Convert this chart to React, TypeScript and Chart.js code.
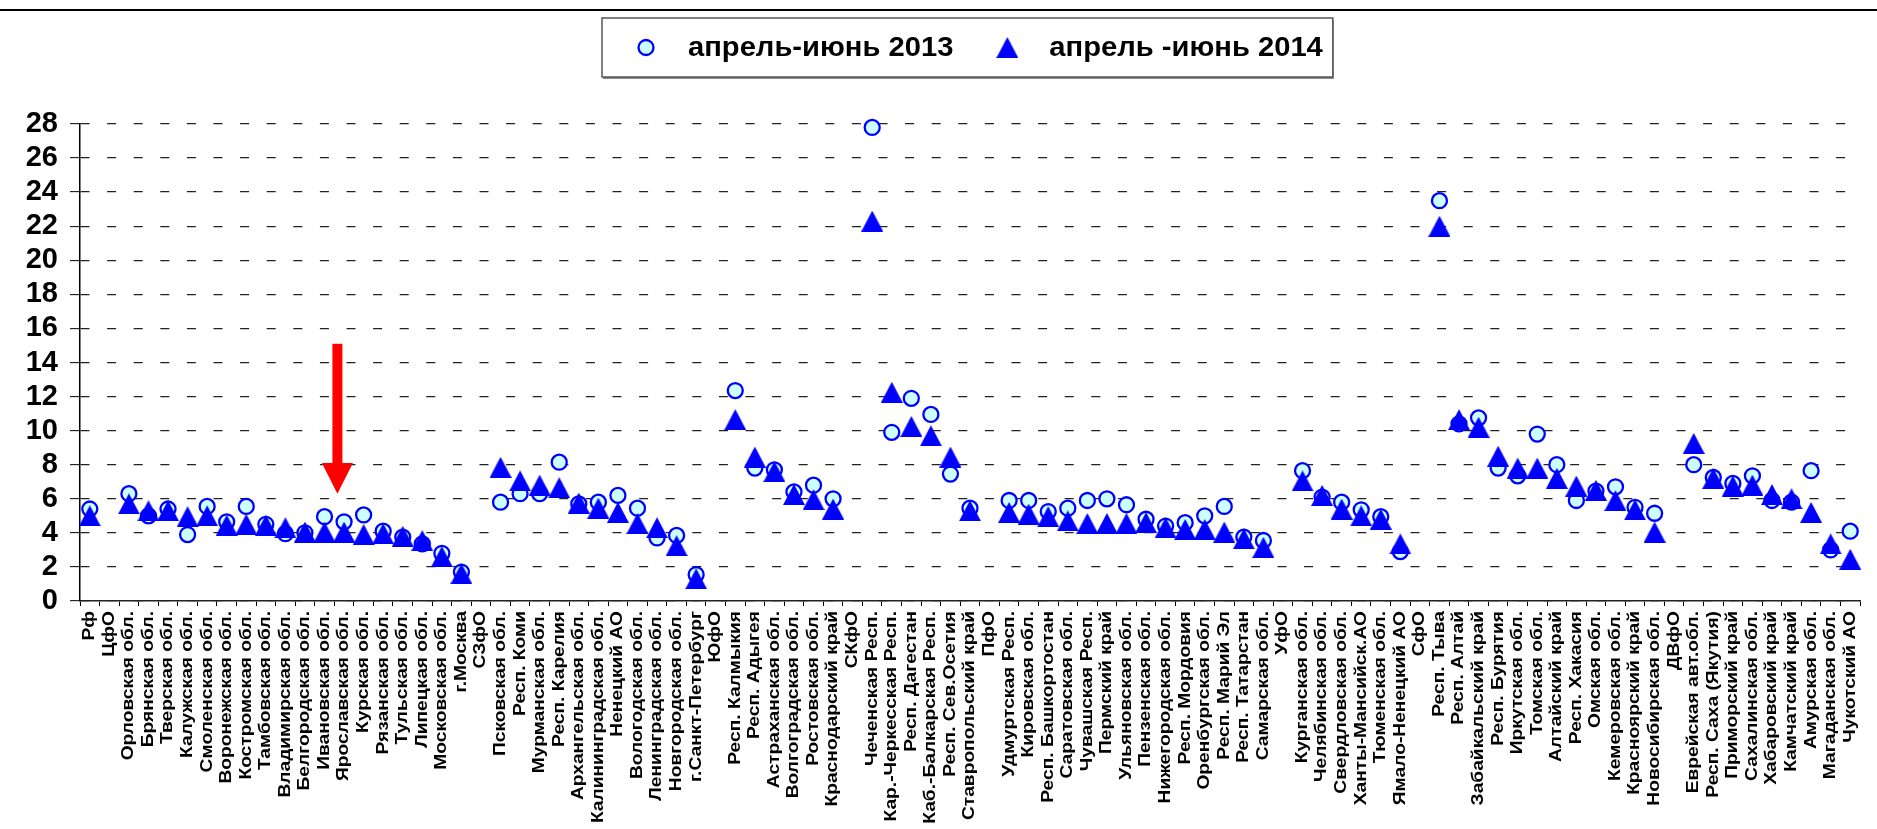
import React, { useEffect, useRef } from 'react';
import { Chart, registerables } from 'chart.js';

Chart.register(...registerables);

const categories = [
  'Рф', 'ЦфО', 'Орловская обл.', 'Брянская обл.', 'Тверская обл.', 'Калужская обл.',
  'Смоленская обл.', 'Воронежская обл.', 'Костромская обл.', 'Тамбовская обл.',
  'Владимирская обл.', 'Белгородская обл.', 'Ивановская обл.', 'Ярославская обл.',
  'Курская обл.', 'Рязанская обл.', 'Тульская обл.', 'Липецкая обл.', 'Московская обл.',
  'г.Москва', 'СЗфО', 'Псковская обл.', 'Респ. Коми', 'Мурманская обл.', 'Респ. Карелия',
  'Архангельская обл.', 'Калининградская обл.', 'Ненецкий АО', 'Вологодская обл.',
  'Ленинградская обл.', 'Новгородская обл.', 'г.Санкт-Петербург', 'ЮфО', 'Респ. Калмыкия',
  'Респ. Адыгея', 'Астраханская обл.', 'Волгоградская обл.', 'Ростовская обл.',
  'Краснодарский край', 'СКфО', 'Чеченская Респ.', 'Кар.-Черкесская Респ.', 'Респ. Дагестан',
  'Каб.-Балкарская Респ.', 'Респ. Сев.Осетия', 'Ставропольский край', 'ПфО',
  'Удмуртская Респ.', 'Кировская обл.', 'Респ. Башкортостан', 'Саратовская обл.',
  'Чувашская Респ.', 'Пермский край', 'Ульяновская обл.', 'Пензенская обл.',
  'Нижегородская обл.', 'Респ. Мордовия', 'Оренбургская обл.', 'Респ. Марий Эл',
  'Респ. Татарстан', 'Самарская обл.', 'УфО', 'Курганская обл.', 'Челябинская обл.',
  'Свердловская обл.', 'Ханты-Мансийск.АО', 'Тюменская обл.', 'Ямало-Ненецкий АО', 'СфО',
  'Респ. Тыва', 'Респ. Алтай', 'Забайкальский край', 'Респ. Бурятия', 'Иркутская обл.',
  'Томская обл.', 'Алтайский край', 'Респ. Хакасия', 'Омская обл.', 'Кемеровская обл.',
  'Красноярский край', 'Новосибирская обл.', 'ДВфО', 'Еврейская авт.обл.',
  'Респ. Саха (Якутия)', 'Приморский край', 'Сахалинская обл.', 'Хабаровский край',
  'Камчатский край', 'Амурская обл.', 'Магаданская обл.', 'Чукотский АО',
];

const label2013 = 'апрель-июнь 2013';
const label2014 = 'апрель -июнь 2014';

const values2013: (number | null)[] = [
  5.4, null, 6.3, 5.0, 5.4, 3.9, 5.55, 4.65, 5.55, 4.5,
  3.95, 4.0, 4.95, 4.65, 5.05, 4.1, 3.75, 3.35, 2.8, 1.7,
  null, 5.8, 6.3, 6.3, 8.15, 5.7, 5.8, 6.2, 5.45, 3.7,
  3.85, 1.55, null, 12.35, 7.8, 7.7, 6.4, 6.8, 6.0, null,
  27.8, 9.9, 11.9, 10.95, 7.45, 5.45, null, 5.9, 5.9, 5.25,
  5.45, 5.9, 6.0, 5.65, 4.8, 4.4, 4.6, 5.0, 5.55, 3.75,
  3.55, null, 7.65, 6.1, 5.8, 5.35, 4.95, 2.9, null, 23.5,
  10.4, 10.75, 7.8, 7.35, 9.8, 8.0, 5.9, 6.45, 6.7, 5.5,
  5.15, null, 8.0, 7.25, 6.9, 7.35, 5.9, 5.8, 7.65, 3.0,
  4.1,
];

const values2014: (number | null)[] = [
  5.0, null, 5.7, 5.3, 5.3, 4.95, 5.0, 4.45, 4.5, 4.45,
  4.3, 4.05, 4.05, 4.05, 3.9, 3.95, 3.8, 3.55, 2.6, 1.6,
  null, 7.85, 7.05, 6.8, 6.65, 5.75, 5.45, 5.2, 4.55, 4.3,
  3.25, 1.3, null, 10.65, 8.45, 7.6, 6.25, 5.95, 5.4, null,
  22.3, 12.25, 10.25, 9.7, 8.45, 5.3, null, 5.2, 5.1, 4.95,
  4.7, 4.55, 4.55, 4.55, 4.6, 4.3, 4.2, 4.2, 4.05, 3.65,
  3.15, null, 7.05, 6.2, 5.4, 5.0, 4.8, 3.35, null, 22.0,
  10.65, 10.2, 8.5, 7.8, 7.8, 7.2, 6.75, 6.5, 5.9, 5.35,
  4.05, null, 9.25, 7.2, 6.75, 6.8, 6.25, 6.0, 5.2, 3.35,
  2.45,
];

const yMin = 0;
const yMax = 28;
const yStep = 2;

// red arrow annotation (value positions on the y scale, between two categories)
const arrowFromCategory = 'Ивановская обл.';
const arrowFraction = 0.66;
const arrowTopValue = 15.1;
const arrowHeadBaseValue = 8.1;
const arrowTipValue = 6.3;

const FONT = '"Liberation Sans", Arial, sans-serif';
const BLUE = '#0000FF';
const CYAN = '#CCFFFF';
const X_LABEL_STRETCH = 1.2;
const LEGEND_STRETCH = 1.08;

function makeTriangle(w: number, h: number, color: string) {
  const c = document.createElement('canvas');
  c.width = w;
  c.height = h;
  const g = c.getContext('2d')!;
  g.fillStyle = color;
  g.beginPath();
  g.moveTo(w / 2, 0);
  g.lineTo(w, h);
  g.lineTo(0, h);
  g.closePath();
  g.fill();
  return c;
}

export default function App() {
  const ref = useRef<HTMLCanvasElement | null>(null);

  useEffect(() => {
    if (!ref.current) return;
    const tri = makeTriangle(22, 21, BLUE);

    const framePlugin = {
      id: 'frameLine',
      beforeDraw(chart: any) {
        const { ctx, width, height } = chart;
        ctx.save();
        ctx.fillStyle = '#ffffff';
        ctx.fillRect(0, 0, width, height);
        ctx.strokeStyle = '#000000';
        ctx.lineWidth = 2;
        ctx.beginPath();
        ctx.moveTo(0, 10);
        ctx.lineTo(width, 10);
        ctx.stroke();
        ctx.restore();
      },
    };

    // stretch the rotated category labels along their length (keeps glyph height)
    const labelStretchPlugin = {
      id: 'labelStretch',
      afterLayout(chart: any) {
        const xs = chart.scales.x;
        if (!xs || xs.__stretched) return;
        const orig = xs.drawLabels;
        xs.drawLabels = function (area: any) {
          const items = this.getLabelItems(area);
          const y0 = items.length ? items[0].options.translation[1] : this.top;
          const c = this.ctx;
          c.save();
          c.translate(0, y0);
          c.scale(1, X_LABEL_STRETCH);
          c.translate(0, -y0);
          orig.call(this, area);
          c.restore();
        };
        xs.__stretched = true;
      },
    };

    const arrowPlugin = {
      id: 'redArrow',
      afterDatasetsDraw(chart: any) {
        const { ctx } = chart;
        const xs = chart.scales.x;
        const ys = chart.scales.y;
        const i0 = categories.indexOf(arrowFromCategory);
        const p0 = xs.getPixelForValue(i0);
        const p1 = xs.getPixelForValue(i0 + 1);
        const px = p0 + (p1 - p0) * arrowFraction;
        const yTop = ys.getPixelForValue(arrowTopValue);
        const yBase = ys.getPixelForValue(arrowHeadBaseValue);
        const yTip = ys.getPixelForValue(arrowTipValue);
        ctx.save();
        ctx.fillStyle = '#FF0000';
        ctx.fillRect(px - 5, yTop, 10, yBase - yTop + 1);
        ctx.beginPath();
        ctx.moveTo(px - 15.5, yBase);
        ctx.lineTo(px + 15.5, yBase);
        ctx.lineTo(px, yTip);
        ctx.closePath();
        ctx.fill();
        ctx.restore();
      },
    };

    const legendPlugin = {
      id: 'boxLegend',
      afterDraw(chart: any) {
        const { ctx, chartArea } = chart;
        const ds = chart.data.datasets;
        ctx.save();
        ctx.font = `bold 27px ${FONT}`;
        const t1 = ds[1].label;
        const t2 = ds[0].label;
        const w1 = ctx.measureText(t1).width * LEGEND_STRETCH;
        const w2 = ctx.measureText(t2).width * LEGEND_STRETCH;
        const padL = 44;
        const mToT = 42;
        const tToM = 54;
        const padR = 10;
        const total = padL + mToT + w1 + tToM + mToT + w2 + padR;
        const cx = (chartArea.left + chartArea.right) / 2 - 3;
        const bx = Math.round(cx - total / 2);
        const by = 18;
        const bh = 59;
        // shadow
        ctx.fillStyle = '#8a8a8a';
        ctx.fillRect(bx + 1, by + 2, total, bh);
        ctx.fillStyle = '#ffffff';
        ctx.fillRect(bx, by, total, bh);
        ctx.strokeStyle = '#555555';
        ctx.lineWidth = 1.5;
        ctx.strokeRect(bx, by, total, bh);
        const cy = by + bh / 2;
        // marker 1: circle
        const m1 = bx + padL;
        ctx.beginPath();
        ctx.arc(m1, cy, 7.5, 0, Math.PI * 2);
        ctx.fillStyle = CYAN;
        ctx.fill();
        ctx.lineWidth = 2.3;
        ctx.strokeStyle = BLUE;
        ctx.stroke();
        ctx.fillStyle = '#000000';
        ctx.textBaseline = 'middle';
        ctx.textAlign = 'left';
        const drawStretched = (t: string, x: number) => {
          ctx.save();
          ctx.translate(x, cy + 1);
          ctx.scale(LEGEND_STRETCH, 1);
          ctx.fillText(t, 0, 0);
          ctx.restore();
        };
        drawStretched(t1, m1 + mToT);
        // marker 2: triangle
        const m2 = m1 + mToT + w1 + tToM;
        ctx.drawImage(tri, m2 - tri.width / 2, cy - tri.height / 2);
        ctx.fillStyle = '#000000';
        drawStretched(t2, m2 + mToT);
        ctx.restore();
      },
    };

    const chart = new Chart(ref.current, {
      type: 'line',
      data: {
        labels: categories,
        datasets: [
          {
            label: label2014,
            data: values2014,
            showLine: false,
            pointStyle: tri as any,
            pointRadius: 10,
            pointHoverRadius: 10,
            backgroundColor: BLUE,
            borderColor: BLUE,
            order: 0,
            clip: false as any,
          },
          {
            label: label2013,
            data: values2013,
            showLine: false,
            pointStyle: 'circle',
            pointRadius: 7.5,
            pointHoverRadius: 7.5,
            pointBorderWidth: 2.3,
            pointBackgroundColor: CYAN,
            pointBorderColor: BLUE,
            backgroundColor: CYAN,
            borderColor: BLUE,
            order: 1,
            clip: false as any,
          },
        ],
      },
      options: {
        responsive: false,
        animation: false,
        events: [],
        layout: { padding: { top: 124, right: 17, bottom: 0, left: 0 } },
        plugins: {
          legend: { display: false },
          title: { display: false },
          tooltip: { enabled: false },
        },
        scales: {
          x: {
            type: 'category',
            offset: true,
            grid: {
              display: true,
              offset: true,
              drawOnChartArea: false,
              drawTicks: true,
              tickLength: 5,
              tickColor: '#000000',
              tickWidth: 1,
              color: '#000000',
            },
            border: { display: true, color: '#222222', width: 1.5 },
            ticks: {
              autoSkip: false,
              maxRotation: 90,
              minRotation: 90,
              padding: 5,
              color: '#000000',
              font: { family: FONT, size: 16, weight: 'bold' },
            },
            afterFit(scale: any) {
              scale.height = 228;
            },
          },
          y: {
            min: yMin,
            max: yMax,
            ticks: {
              stepSize: yStep,
              autoSkip: false,
              padding: 12,
              color: '#000000',
              font: { family: FONT, size: 29, weight: 'bold' },
            },
            grid: {
              display: true,
              drawOnChartArea: true,
              drawTicks: true,
              tickLength: 10,
              tickColor: '#000000',
              tickWidth: 1,
              color: '#222222',
              lineWidth: 1.3,
            },
            border: { display: true, color: '#000000', width: 1.5, dash: [9, 17.6] },
            afterFit(scale: any) {
              scale.width = 80;
            },
          },
        },
      } as any,
      plugins: [framePlugin, labelStretchPlugin, arrowPlugin, legendPlugin],
    });

    return () => chart.destroy();
  }, []);

  return (
    <div style={{ position: 'absolute', left: 0, top: 0, width: 1877, height: 829, background: '#fff' }}>
      <canvas ref={ref} width={1877} height={829} style={{ display: 'block', width: 1877, height: 829 }} />
    </div>
  );
}
